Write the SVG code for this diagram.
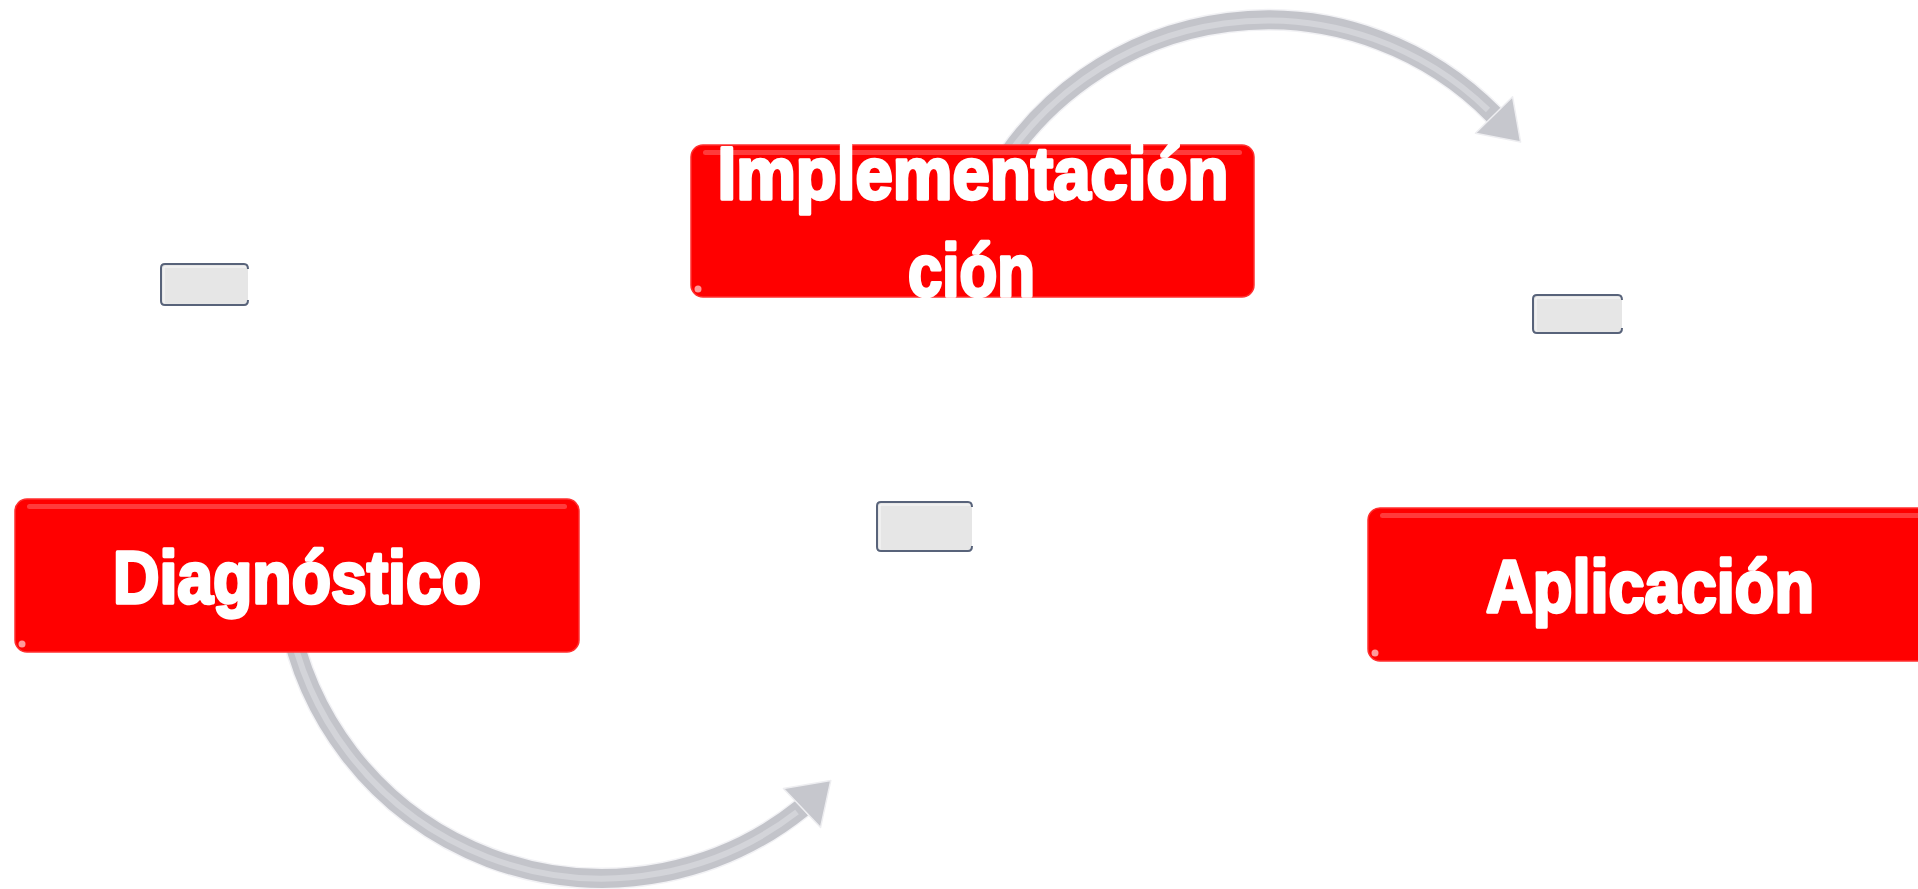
<svg xmlns="http://www.w3.org/2000/svg" width="1918" height="889" viewBox="0 0 1918 889">
  <style>
    .box { fill: #ff0000; stroke: #ff3030; stroke-width: 1.5; }
    .shine { fill: #ff4a4a; opacity: 0.8; }
    .glint { fill: #ffffff; opacity: 0.6; }
    .label { font-family: "Liberation Sans Narrow", "Liberation Sans", Arial, sans-serif; font-weight: bold; font-size: 75px; fill: #ffffff; stroke: #ffffff; stroke-width: 3.5; stroke-linejoin: round; text-anchor: middle; }
    .gbox { fill: #e6e6e6; }
    .gline { fill: none; stroke: #58637a; stroke-width: 2; }
    .ghl { fill: none; stroke: #ffffff; stroke-width: 1; opacity: 0.8; }
    .arr-edge { fill: none; stroke: #f2f2f5; stroke-width: 22; }
    .arr-body { fill: none; stroke: #c3c4ca; stroke-width: 19; }
    .arr-hl { fill: none; stroke: #d3d4d9; stroke-width: 6; }
    .head { fill: #c6c7cd; stroke: #eeeef1; stroke-width: 1.5; stroke-linejoin: round; }
  </style>

  <g id="connectors">
    <!-- top arrow: Implementación -> Aplicación -->
    <path class="arr-edge" d="M 993.5 178.2 A 316.7 316.7 0 0 1 1494 115"/>
    <path class="arr-body" d="M 993.5 178.2 A 316.7 316.7 0 0 1 1494 115"/>
    <path class="arr-hl" d="M 993.5 178.2 A 316.7 316.7 0 0 1 1488 110"/>
    <polygon class="head" points="1512.6,96.8 1520.6,142.1 1475.4,133.2"/>
    <!-- bottom arrow: Diagnóstico -> center -->
    <path class="arr-edge" d="M 288.2 614.9 A 318.8 318.8 0 0 0 802 808"/>
    <path class="arr-body" d="M 288.2 614.9 A 318.8 318.8 0 0 0 802 808"/>
    <path class="arr-hl" d="M 288.2 614.9 A 318.8 318.8 0 0 0 797 812"/>
    <polygon class="head" points="783.4,788.6 830.8,780.4 820.6,827.4"/>
  </g>

  <g id="node-gray-1">
    <rect class="gbox" x="161" y="264" width="87" height="41" rx="3"/>
    <path class="ghl" d="M 164 304 V 267 H 246"/>
    <path class="gline" d="M 248 269 Q 248 264 244 264 H 165 Q 161 264 161 268 V 301 Q 161 305 165 305 H 244 Q 248 305 248 300"/>
  </g>
  <g id="node-gray-2">
    <rect class="gbox" x="877" y="502" width="95" height="49" rx="3"/>
    <path class="ghl" d="M 880 550 V 505 H 970"/>
    <path class="gline" d="M 972 507 Q 972 502 968 502 H 881 Q 877 502 877 506 V 547 Q 877 551 881 551 H 968 Q 972 551 972 546"/>
  </g>
  <g id="node-gray-3">
    <rect class="gbox" x="1533" y="295" width="89" height="38" rx="3"/>
    <path class="ghl" d="M 1536 332 V 298 H 1620"/>
    <path class="gline" d="M 1622 300 Q 1622 295 1618 295 H 1537 Q 1533 295 1533 299 V 329 Q 1533 333 1537 333 H 1618 Q 1622 333 1622 328"/>
  </g>

  <g id="node-implementacion">
    <rect class="box" x="691" y="145" width="563" height="152" rx="12"/>
    <rect class="shine" x="703" y="150" width="539" height="5" rx="2.5"/>
    <circle class="glint" cx="698" cy="289" r="3.5"/>
    <text class="label" x="973" y="199" textLength="511" lengthAdjust="spacingAndGlyphs">Implementación</text>
    <text class="label" x="971.5" y="296" textLength="127" lengthAdjust="spacingAndGlyphs">ción</text>
  </g>

  <g id="node-diagnostico">
    <rect class="box" x="15" y="499" width="564" height="153" rx="12"/>
    <rect class="shine" x="27" y="504" width="540" height="5" rx="2.5"/>
    <circle class="glint" cx="22" cy="644" r="3.5"/>
    <text class="label" x="297" y="603" textLength="368" lengthAdjust="spacingAndGlyphs">Diagnóstico</text>
  </g>

  <g id="node-aplicacion">
    <rect class="box" x="1368" y="508" width="570" height="153" rx="12"/>
    <rect class="shine" x="1380" y="513" width="546" height="5" rx="2.5"/>
    <circle class="glint" cx="1375" cy="653" r="3.5"/>
    <text class="label" x="1650" y="612" textLength="328" lengthAdjust="spacingAndGlyphs">Aplicación</text>
  </g>
</svg>
